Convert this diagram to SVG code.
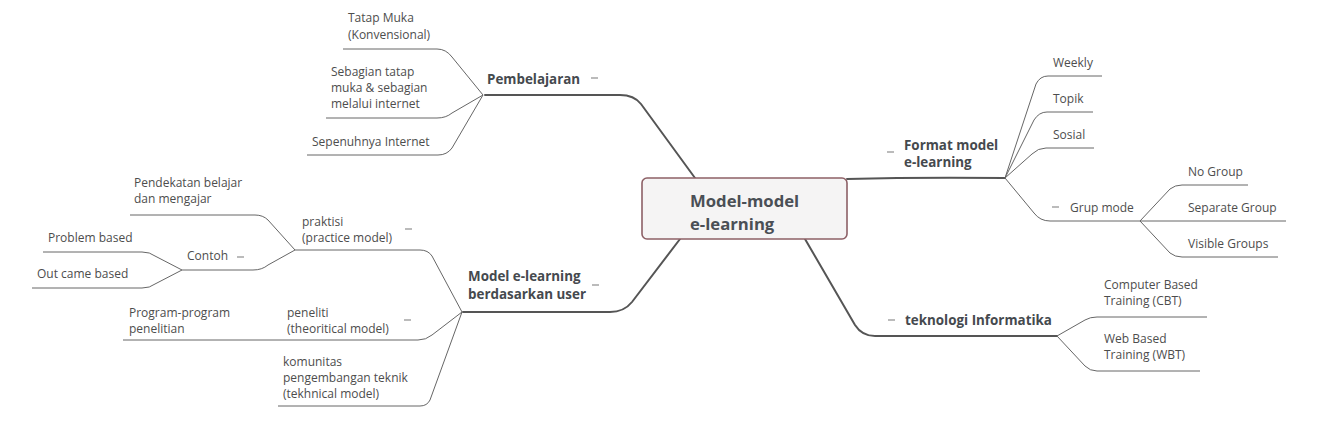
<svg xmlns="http://www.w3.org/2000/svg" width="1343" height="438" viewBox="0 0 1343 438">
<style>
.t{font-family:"Open Sans","DejaVu Sans",sans-serif;font-size:12px;fill:#4d4d4d}
.b{font-family:"Open Sans","DejaVu Sans",sans-serif;font-size:13.4px;font-weight:bold;fill:#45494e}
.c{font-family:"Open Sans","DejaVu Sans",sans-serif;font-size:16.7px;font-weight:bold;fill:#4a4f55}
.main{fill:none;stroke:#555;stroke-width:2;stroke-linecap:round}
.sub{fill:none;stroke:#666;stroke-width:1}
.dash{stroke:#aaa;stroke-width:1.6}
</style>
<rect width="1343" height="438" fill="#fff"/>
<g id="connectors">
<path class="main" d="M695 178 L641 104 Q634 95 620 95 L485 95"/>
<path class="main" d="M847 179 Q920 177 1005 178"/>
<path class="main" d="M805 239 L855 325 Q862 336 875 336 L1057 336"/>
<path class="main" d="M680 239 L632 302 Q624 312 610 312 L463 312"/>
<path class="sub" d="M483 95 L452 57 Q446 49 437 49 L343 49"/>
<path class="sub" d="M483 95 L452 113 Q446 118 437 118 L326 118"/>
<path class="sub" d="M483 95 L452 148 Q447 155 438 155 L307 155"/>
<path class="sub" d="M1005 178 L1036 84 Q1040 76 1048 76 L1102 76"/>
<path class="sub" d="M1005 178 L1034 120 Q1039 112 1047 112 L1093 112"/>
<path class="sub" d="M1005 178 L1032 154 Q1038 148 1046 148 L1094 148"/>
<path class="sub" d="M1005 178 L1034 213 Q1040 221 1050 221 L1140 221"/>
<path class="sub" d="M1140 221 L1170 189 Q1175 185 1182 185 L1248 185"/>
<path class="sub" d="M1140 221 L1286 221"/>
<path class="sub" d="M1140 221 L1170 253 Q1175 257 1182 257 L1278 257"/>
<path class="sub" d="M1057 336 L1085 320 Q1090 317 1097 317 L1207 317"/>
<path class="sub" d="M1057 336 L1085 366 Q1090 371 1097 371 L1200 371"/>
<path class="sub" d="M462 312 L432 256 Q428 250 420 250 L295 250"/>
<path class="sub" d="M462 312 L432 335 Q426 340 418 340 L123 340"/>
<path class="sub" d="M462 312 L430 400 Q427 406 420 406 L278 406"/>
<path class="sub" d="M295 250 L268 220 Q263 215 255 215 L130 215"/>
<path class="sub" d="M295 250 L268 265 Q262 270 253 270 L182 270"/>
<path class="sub" d="M182 270 L155 256 Q150 252 142 252 L43 252"/>
<path class="sub" d="M182 270 L155 284 Q150 288 142 288 L32 288"/>
</g>
<g id="center">
<rect x="642" y="178" width="205" height="61" rx="5" fill="#f5f4f4" stroke="#8d6066" stroke-width="1.6"/>
<text class="c" x="690" y="207">Model-model</text>
<text class="c" x="690" y="230">e-learning</text>
</g>
<g id="pembelajaran">
<text class="b" x="487" y="84">Pembelajaran</text>
<line class="dash" x1="591" y1="78" x2="598" y2="78"/>
</g>
<g id="tatap-muka"><text class="t" x="348" y="22">Tatap Muka</text><text class="t" x="348" y="39">(Konvensional)</text></g>
<g id="sebagian"><text class="t" x="331" y="76">Sebagian tatap</text><text class="t" x="331" y="92">muka &amp; sebagian</text><text class="t" x="331" y="108">melalui internet</text></g>
<g id="sepenuhnya"><text class="t" x="312" y="146">Sepenuhnya Internet</text></g>
<g id="format">
<line class="dash" x1="887" y1="152" x2="894" y2="152"/>
<text class="b" x="904" y="150">Format model</text>
<text class="b" x="904" y="167">e-learning</text>
</g>
<g id="weekly"><text class="t" x="1053" y="67">Weekly</text></g>
<g id="topik"><text class="t" x="1053" y="103">Topik</text></g>
<g id="sosial"><text class="t" x="1053" y="139">Sosial</text></g>
<g id="grup-mode">
<line class="dash" x1="1052" y1="207" x2="1059" y2="207"/>
<text class="t" x="1070" y="212">Grup mode</text>
</g>
<g id="no-group"><text class="t" x="1188" y="176">No Group</text></g>
<g id="separate-group"><text class="t" x="1188" y="212">Separate Group</text></g>
<g id="visible-groups"><text class="t" x="1188" y="248">Visible Groups</text></g>
<g id="teknologi">
<line class="dash" x1="888" y1="320" x2="895" y2="320"/>
<text class="b" x="905" y="325">teknologi Informatika</text>
</g>
<g id="cbt"><text class="t" x="1104" y="289">Computer Based</text><text class="t" x="1104" y="305">Training (CBT)</text></g>
<g id="wbt"><text class="t" x="1104" y="343">Web Based</text><text class="t" x="1104" y="359">Training (WBT)</text></g>
<g id="model-user">
<text class="b" x="468" y="281">Model e-learning</text>
<text class="b" x="468" y="299">berdasarkan user</text>
<line class="dash" x1="592" y1="285" x2="599" y2="285"/>
</g>
<g id="praktisi">
<text class="t" x="302" y="226">praktisi</text><text class="t" x="302" y="242">(practice model)</text>
<line class="dash" x1="405" y1="229" x2="412" y2="229"/>
</g>
<g id="pendekatan"><text class="t" x="134" y="187">Pendekatan belajar</text><text class="t" x="134" y="203">dan mengajar</text></g>
<g id="contoh">
<text class="t" x="187" y="260">Contoh</text>
<line class="dash" x1="237" y1="257" x2="244" y2="257"/>
</g>
<g id="problem"><text class="t" x="48" y="242">Problem based</text></g>
<g id="outcame"><text class="t" x="37" y="278">Out came based</text></g>
<g id="peneliti">
<text class="t" x="287" y="317">peneliti</text><text class="t" x="287" y="333">(theoritical model)</text>
<line class="dash" x1="404" y1="320" x2="411" y2="320"/>
</g>
<g id="program"><text class="t" x="129" y="317">Program-program</text><text class="t" x="129" y="333">penelitian</text></g>
<g id="komunitas"><text class="t" x="283" y="366">komunitas</text><text class="t" x="283" y="382">pengembangan teknik</text><text class="t" x="283" y="398">(tekhnical model)</text></g>
</svg>
